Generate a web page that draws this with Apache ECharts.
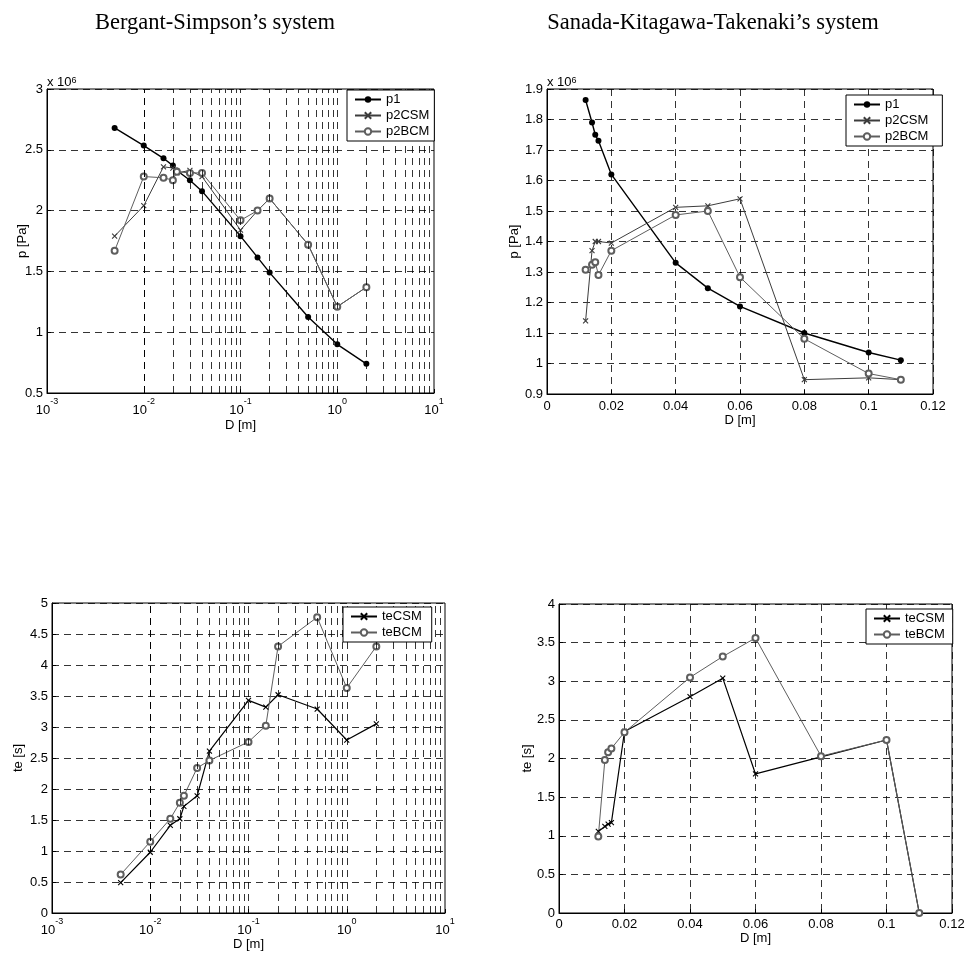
<!DOCTYPE html>
<html>
<head>
<meta charset="utf-8">
<script src="https://cdn.jsdelivr.net/npm/echarts@6/dist/echarts.min.js"></script>
<style>html,body{margin:0;padding:0;background:#fff;}#c{width:968px;height:954px;}</style>
</head>
<body>
<div id="c"></div>
<script>
// ---- Data (pressure in units of 10^6 Pa, time in s, diameter in m) ----
const titles = ["Bergant-Simpson\u2019s system", "Sanada-Kitagawa-Takenaki\u2019s system"];
const dBS = [0.005, 0.01, 0.016, 0.02, 0.022, 0.03, 0.04, 0.1, 0.15, 0.2, 0.5, 1, 2];
const p1BS = [2.68, 2.535, 2.43, 2.37, 2.33, 2.25, 2.16, 1.79, 1.615, 1.49, 1.125, 0.90, 0.74];
const p2CSM_BS = [1.79, 2.04, 2.36, 2.35, 2.31, 2.33, 2.28, 1.84, 2.0, 2.10, 1.72, 1.21, 1.37];
const p2BCM_BS = [1.67, 2.28, 2.27, 2.25, 2.32, 2.31, 2.31, 1.92, 2.0, 2.10, 1.72, 1.21, 1.37];
const teCSM_BS = [0.49, 0.98, 1.415, 1.52, 1.72, 1.89, 2.61, 3.43, 3.32, 3.52, 3.29, 2.79, 3.05];
const teBCM_BS = [0.62, 1.15, 1.52, 1.78, 1.89, 2.34, 2.46, 2.76, 3.02, 4.30, 4.77, 3.63, 4.30];

const dSKT = [0.012, 0.014, 0.015, 0.016, 0.02, 0.04, 0.05, 0.06, 0.08, 0.1, 0.11];
const p1SKT = [1.864, 1.79, 1.75, 1.73, 1.62, 1.33, 1.247, 1.187, 1.10, 1.036, 1.011];
const p2CSM_SKT = [1.14, 1.37, 1.40, 1.40, 1.395, 1.512, 1.517, 1.54, 0.947, 0.953, 0.947];
const p2BCM_SKT = [1.307, 1.324, 1.332, 1.29, 1.37, 1.487, 1.50, 1.283, 1.081, 0.967, 0.947];
const teCSM_SKT = [1.056, 1.12, 1.15, 1.17, 2.35, 2.80, 3.04, 1.80, 2.02, 2.24, 0];
const teBCM_SKT = [0.99, 1.98, 2.08, 2.13, 2.34, 3.05, 3.32, 3.56, 2.03, 2.24, 0];

// log-axis grid positions (decades and their 2..9 multiples)
const logDecades = [0.001, 0.01, 0.1, 1];
const logMults = [1, 2, 3, 4, 5, 6, 7, 8, 9];

// ---- Helpers ----
const pairs = (xs, ys) => xs.map((x, i) => [x, ys[i]]);
const logGridVals = [];
logDecades.forEach(d => logMults.forEach(m => { const v = +(d * m).toPrecision(3); if (v > 0.001) logGridVals.push(v); }));

const FONT = 'Liberation Sans, Arial, sans-serif';
const dash = [7, 5];
const XMARK = 'path://M0,0L10,10M10,0L0,10';
const C_BLACK = '#000';
const C_DARK = '#3c3c3c';
const C_GREY = '#5e5e5e';

function logLabel(v) {
  const e = Math.round(Math.log10(v));
  return '{b|10}{s|' + e + '}';
}
const logRich = {
  b: { fontSize: 13, fontFamily: FONT, color: '#000', verticalAlign: 'bottom', lineHeight: 20 },
  s: { fontSize: 9, fontFamily: FONT, color: '#000', verticalAlign: 'top', lineHeight: 20 }
};

function baseY(idx, min, max, interval, name, gap) {
  return {
    type: 'value', gridIndex: idx, min, max, interval,
    name, nameLocation: 'middle', nameGap: gap, nameMoveOverlap: false,
    nameTextStyle: { fontSize: 13, fontFamily: FONT, color: '#000' },
    axisLine: { show: true, lineStyle: { color: '#000', width: 1 } },
    axisTick: { show: true, inside: true, length: 4, lineStyle: { color: '#000' } },
    axisLabel: { fontSize: 13, fontFamily: FONT, color: '#000', margin: 4 },
    splitLine: { show: true, lineStyle: { color: '#000', type: dash, width: 0.8 } }
  };
}
function linX(idx, gap, lblMargin) {
  return {
    type: 'value', gridIndex: idx, min: 0, max: 0.12, interval: 0.02,
    name: 'D [m]', nameLocation: 'middle', nameGap: gap,
    nameTextStyle: { fontSize: 13, fontFamily: FONT, color: '#000' },
    axisLine: { show: true, onZero: false, lineStyle: { color: '#000', width: 1 } },
    axisTick: { show: true, inside: true, length: 4, lineStyle: { color: '#000' } },
    axisLabel: { fontSize: 13, fontFamily: FONT, color: '#000', margin: lblMargin },
    splitLine: { show: true, lineStyle: { color: '#000', type: dash, width: 0.8 } }
  };
}
function logX(idx, gap) {
  return {
    type: 'log', logBase: 10, gridIndex: idx, min: 0.001, max: 10,
    name: 'D [m]', nameLocation: 'middle', nameGap: gap,
    nameTextStyle: { fontSize: 13, fontFamily: FONT, color: '#000' },
    axisLine: { show: true, onZero: false, lineStyle: { color: '#000', width: 1 } },
    axisTick: { show: true, inside: true, length: 4, lineStyle: { color: '#000' } },
    axisLabel: { formatter: logLabel, rich: logRich, margin: 4 },
    splitLine: { show: false }
  };
}
function gridLinesMark() {
  return {
    silent: true, symbol: 'none', animation: false,
    label: { show: false },
    lineStyle: { color: '#000', type: dash, width: 0.8 },
    emphasis: { disabled: true },
    data: logGridVals.map(v => ({ xAxis: v }))
  };
}
function ser(name, idx, xs, ys, kind, color, lw, extra) {
  const s = {
    name, type: 'line', xAxisIndex: idx, yAxisIndex: idx,
    data: pairs(xs, ys), animation: false,
    lineStyle: { color, width: lw },
    emphasis: { disabled: true }
  };
  if (kind === 'dot') { s.symbol = 'circle'; s.symbolSize = 6; s.itemStyle = { color }; }
  if (kind === 'x') { s.symbol = XMARK; s.symbolSize = 5; s.itemStyle = { color, borderColor: color, borderWidth: 1.1 }; }
  if (kind === 'o') { s.symbol = 'emptyCircle'; s.symbolSize = 6; s.itemStyle = { color, borderColor: color, borderWidth: 1 }; }
  return Object.assign(s, extra || {});
}
function legendAt(left, top, names, padRight) {
  return {
    left, top, orient: 'vertical', data: names, z: 20,
    backgroundColor: '#fff', borderColor: '#000', borderWidth: 1,
    padding: [3, padRight, 3, 7], itemGap: 3, itemWidth: 26, itemHeight: 8,
    textStyle: { fontSize: 13, fontFamily: FONT, color: '#000' },
    selectedMode: false, inactiveColor: '#000'
  };
}

const grids = [
  { left: 47, top: 89, width: 387, height: 304 },
  { left: 547, top: 89, width: 386, height: 305 },
  { left: 52, top: 603, width: 393, height: 310 },
  { left: 559, top: 604, width: 393, height: 309 }
].map(g => Object.assign(g, { show: true, borderColor: '#000', borderWidth: 1, backgroundColor: 'transparent', containLabel: false }));

const titleStyle = { fontFamily: 'Liberation Serif, Times New Roman, serif', fontSize: 22.5, fontWeight: 'normal', color: '#000' };
const option = {
  backgroundColor: '#fff',
  animation: false,
  title: [
    { text: titles[0], left: 210, top: 7, textAlign: 'center', textStyle: titleStyle },
    { text: titles[1], left: 708, top: 7, textAlign: 'center', textStyle: titleStyle }
  ],
  grid: grids,
  xAxis: [logX(0, 26), linX(1, 20, 6), logX(2, 24), linX(3, 17, 5)],
  yAxis: [
    baseY(0, 0.5, 3, 0.5, 'p [Pa]', 18),
    baseY(1, 0.9, 1.9, 0.1, 'p [Pa]', 26),
    baseY(2, 0, 5, 0.5, 'te [s]', 27),
    baseY(3, 0, 4, 0.5, 'te [s]', 25)
  ],
  legend: [
    legendAt(347, 90, ['p1', 'p2CSM', 'p2BCM'], 5),
    legendAt(846, 95, ['p1', 'p2CSM', 'p2BCM'], 14),
    legendAt(343, 607, ['teCSM', 'teBCM'], 10),
    legendAt(866, 609, ['teCSM', 'teBCM'], 8)
  ],
  graphic: [
    { type: 'text', left: 47, top: 76, z: 20, style: { rich: { a: { fontSize: 13, fontFamily: FONT, fill: '#000' }, s: { fontSize: 9, fontFamily: FONT, fill: '#000', verticalAlign: 'top' } }, text: '{a|x 10}{s|6}' } },
    { type: 'text', left: 547, top: 76, z: 20, style: { rich: { a: { fontSize: 13, fontFamily: FONT, fill: '#000' }, s: { fontSize: 9, fontFamily: FONT, fill: '#000', verticalAlign: 'top' } }, text: '{a|x 10}{s|6}' } }
  ],
  series: [
    ser('p1', 0, dBS, p1BS, 'dot', C_BLACK, 1.4, { markLine: gridLinesMark() }),
    ser('p2CSM', 0, dBS, p2CSM_BS, 'x', C_DARK, 1),
    ser('p2BCM', 0, dBS, p2BCM_BS, 'o', C_GREY, 1),
    ser('p1', 1, dSKT, p1SKT, 'dot', C_BLACK, 1.4),
    ser('p2CSM', 1, dSKT, p2CSM_SKT, 'x', C_DARK, 1),
    ser('p2BCM', 1, dSKT, p2BCM_SKT, 'o', C_GREY, 1),
    ser('teCSM', 2, dBS, teCSM_BS, 'x', C_BLACK, 1.2, { markLine: gridLinesMark() }),
    ser('teBCM', 2, dBS, teBCM_BS, 'o', C_GREY, 1),
    ser('teCSM', 3, dSKT, teCSM_SKT, 'x', C_BLACK, 1.2),
    ser('teBCM', 3, dSKT, teBCM_SKT, 'o', C_GREY, 1)
  ]
};

const chart = echarts.init(document.getElementById('c'), null, { renderer: 'canvas' });
chart.setOption(option);
</script>
</body>
</html>
